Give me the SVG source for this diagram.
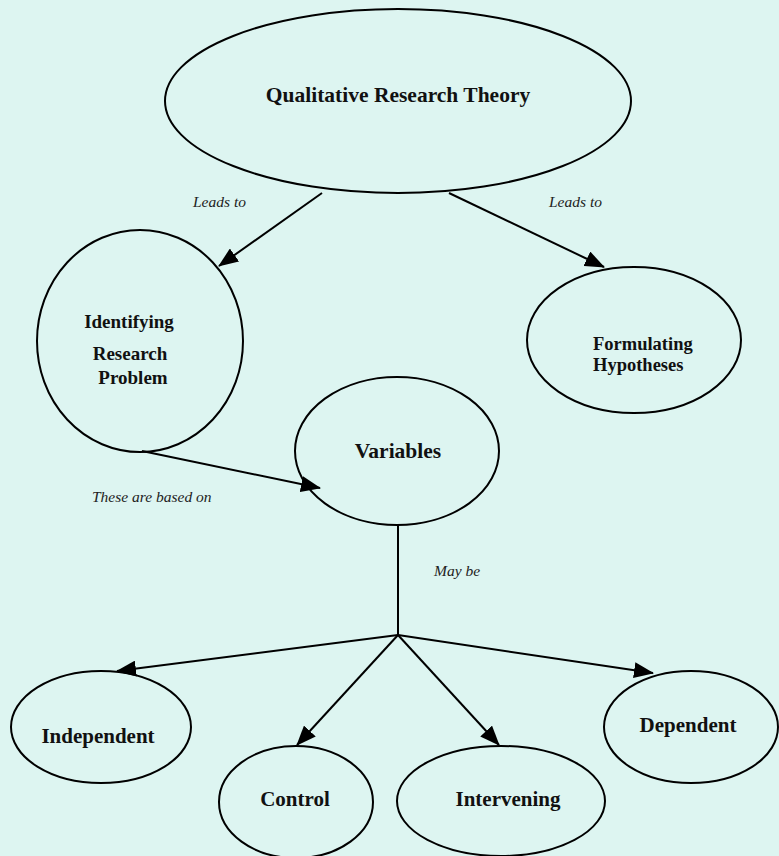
<svg xmlns="http://www.w3.org/2000/svg" width="779" height="856" viewBox="0 0 779 856">
<style>
.node{fill:none;stroke:#000;stroke-width:2}
.lbl{font-family:"Liberation Serif","Times New Roman",serif;font-weight:bold;fill:#111;text-anchor:middle}
.edge{stroke:#000;stroke-width:2;fill:none}
.elbl{font-family:"Liberation Serif","Times New Roman",serif;font-style:italic;font-size:15.5px;fill:#222}
</style>
<defs>
<marker id="ah" markerWidth="20" markerHeight="16" refX="19" refY="8" orient="auto" markerUnits="userSpaceOnUse">
<path d="M0,0 L20,8 L0,16 Z" fill="#000"/>
</marker>
</defs>
<rect width="779" height="856" fill="#DDF5F1"/>
<g id="connectors">
<line class="edge" x1="322" y1="193" x2="219" y2="266" marker-end="url(#ah)"/>
<line class="edge" x1="449" y1="193" x2="604" y2="267" marker-end="url(#ah)"/>
<line class="edge" x1="142" y1="451" x2="320" y2="488" marker-end="url(#ah)"/>
<line class="edge" x1="398" y1="525" x2="398" y2="635"/>
<line class="edge" x1="398" y1="635" x2="117" y2="671" marker-end="url(#ah)"/>
<line class="edge" x1="398" y1="635" x2="297" y2="745" marker-end="url(#ah)"/>
<line class="edge" x1="398" y1="635" x2="499" y2="745" marker-end="url(#ah)"/>
<line class="edge" x1="398" y1="635" x2="653" y2="673" marker-end="url(#ah)"/>
<text class="elbl" x="193" y="207">Leads to</text>
<text class="elbl" x="549" y="207">Leads to</text>
<text class="elbl" x="92" y="502">These are based on</text>
<text class="elbl" x="434" y="576">May be</text>
</g>
<g id="theory">
<ellipse class="node" cx="398" cy="101" rx="233" ry="92"/>
<text class="lbl" x="398" y="102" font-size="21.5">Qualitative Research Theory</text>
</g>
<g id="problem">
<ellipse class="node" cx="140" cy="341" rx="103" ry="111"/>
<text class="lbl" x="129" y="328" font-size="19">Identifying</text>
<text class="lbl" x="130" y="360" font-size="19">Research</text>
<text class="lbl" x="133" y="384" font-size="19">Problem</text>
</g>
<g id="hypotheses">
<ellipse class="node" cx="634" cy="340" rx="107" ry="73"/>
<text class="lbl" x="593" y="350" font-size="18.5" style="text-anchor:start">Formulating</text>
<text class="lbl" x="593" y="371" font-size="18.5" style="text-anchor:start">Hypotheses</text>
</g>
<g id="variables">
<ellipse class="node" cx="397" cy="451" rx="102" ry="74"/>
<text class="lbl" x="398" y="458" font-size="21.5">Variables</text>
</g>
<g id="independent">
<ellipse class="node" cx="101" cy="727" rx="90" ry="56"/>
<text class="lbl" x="98" y="743" font-size="21">Independent</text>
</g>
<g id="control">
<ellipse class="node" cx="296" cy="802" rx="77" ry="56"/>
<text class="lbl" x="295" y="806" font-size="21">Control</text>
</g>
<g id="intervening">
<ellipse class="node" cx="501" cy="801" rx="104" ry="55"/>
<text class="lbl" x="508" y="806" font-size="21">Intervening</text>
</g>
<g id="dependent">
<ellipse class="node" cx="691" cy="727" rx="87" ry="56"/>
<text class="lbl" x="688" y="732" font-size="21">Dependent</text>
</g>
</svg>
